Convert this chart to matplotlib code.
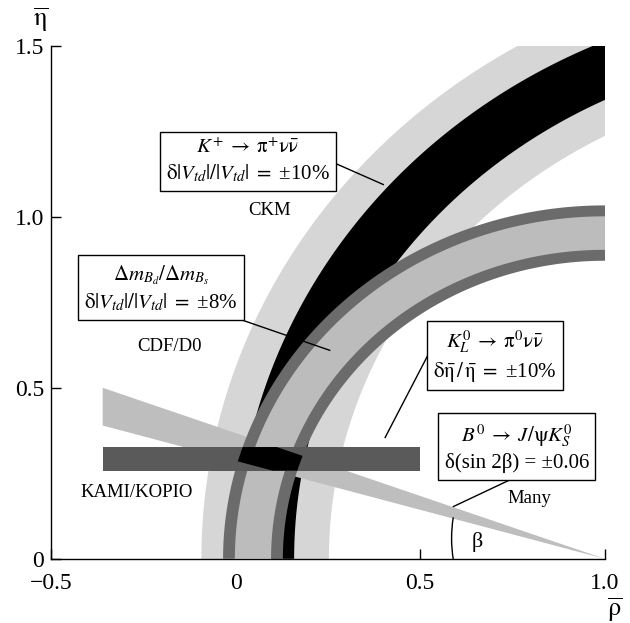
import matplotlib
matplotlib.use('Agg')
import matplotlib.pyplot as plt
import numpy as np
from matplotlib.patches import Polygon, Arc

plt.rcParams['font.family'] = ['Liberation Serif', 'DejaVu Serif']
plt.rcParams['mathtext.fontset'] = 'stix'

# K+ -> pi+ nu nubar ellipse (centred on the rho axis)
kp_center = 1.65
kp_radius = 1.57
kp_wide = 0.11      # outer light band, relative half-width
kp_narrow = 0.05    # inner black band

# Delta m_Bd / Delta m_Bs circle around (1, 0)
cdf_radius = 0.953
cdf_half = 0.081
cdf_edge = 0.032

# KAMI/KOPIO eta-bar band
kami_eta = (0.258, 0.327)
kami_rho = (-0.36, 0.50)

# sin 2beta wedge (degrees)
beta_deg = (16.0, 20.2)
wedge_rho_left = -0.36

LIGHT = '#d6d6d6'
MID = '#bcbcbc'
DARK = '#6b6b6b'
BAR = '#5a5a5a'
WEDGE = '#bebebe'


def ring(cx, r_in, r_out, t0, t1, n=400):
    t = np.linspace(t0, t1, n)
    outer = np.column_stack([cx + r_out * np.cos(t), r_out * np.sin(t)])
    inner = np.column_stack([cx + r_in * np.cos(t[::-1]), r_in * np.sin(t[::-1])])
    return np.vstack([outer, inner])


fig = plt.figure(figsize=(6.3, 6.23), dpi=100)
ax = fig.add_axes([0.081, 0.103, 0.879, 0.823])
ax.set_xlim(-0.5, 1.0)
ax.set_ylim(0, 1.5)

# K+ bands
ax.add_patch(Polygon(ring(kp_center, kp_radius * (1 - kp_wide), kp_radius * (1 + kp_wide),
                          np.pi / 2, np.pi), closed=True, fc=LIGHT, ec='none', zorder=1))
ax.add_patch(Polygon(ring(kp_center, kp_radius * (1 - kp_narrow), kp_radius * (1 + kp_narrow),
                          np.pi / 2, np.pi), closed=True, fc='black', ec='none', zorder=2))

# sin 2beta wedge from (1, 0)
tb = np.tan(np.radians(beta_deg))
span = 1 - wedge_rho_left
wedge = [(1, 0), (wedge_rho_left, span * tb[1]), (wedge_rho_left, span * tb[0])]
ax.add_patch(Polygon(wedge, closed=True, fc=WEDGE, ec='none', zorder=3))

# Delta m ratio band with darker edges
r_lo, r_hi = cdf_radius - cdf_half, cdf_radius + cdf_half
ax.add_patch(Polygon(ring(1.0, r_lo, r_hi, 0, np.pi), closed=True, fc=DARK, ec='none', zorder=4))
ax.add_patch(Polygon(ring(1.0, r_lo + cdf_edge, r_hi - cdf_edge, 0, np.pi), closed=True,
                     fc=MID, ec='none', zorder=5))

# KAMI/KOPIO band
ax.fill_between(kami_rho, kami_eta[0], kami_eta[1], fc=BAR, ec='none', zorder=6)

# region allowed by all constraints
ys = np.linspace(kami_eta[0], kami_eta[1], 200)
left = np.maximum.reduce([1 - ys / tb[0], 1 - np.sqrt(r_hi ** 2 - ys ** 2),
                          kp_center - np.sqrt((kp_radius * (1 + kp_wide)) ** 2 - ys ** 2)])
right = np.minimum.reduce([1 - ys / tb[1], 1 - np.sqrt(r_lo ** 2 - ys ** 2),
                           kp_center - np.sqrt((kp_radius * (1 - kp_wide)) ** 2 - ys ** 2)])
ok = left < right
poly = np.vstack([np.column_stack([left[ok], ys[ok]]),
                  np.column_stack([right[ok][::-1], ys[ok][::-1]])])
ax.add_patch(Polygon(poly, closed=True, fc='black', ec='none', zorder=7))

# beta arc
ax.add_patch(Arc((1.0, 0.06), 0.83, 0.83, theta1=171.5, theta2=188.5, color='black',
                 lw=1, zorder=8))
ax.text(0.655, 0.05, r'β', fontsize=16, ha='center', va='center', zorder=9)

# boxes and labels
box = dict(boxstyle='square,pad=0.3', fc='white', ec='black', lw=1)
tkw = dict(fontsize=15, ha='center', va='center', multialignment='center', zorder=10,
           linespacing=1.3)
lkw = dict(fontsize=13.5, ha='center', va='center', zorder=10)

ax.text(0.033, 1.162,
        '$K^{+}\\;\\rightarrow\\;\\mathrm{\\pi}^{+}\\mathrm{\\nu}\\bar{\\mathrm{\\nu}}$\n'
        '$\\mathrm{\\delta}|V_{td}|/|V_{td}|\\;=$ ±10%', bbox=box, **tkw)
ax.plot([0.274, 0.40], [1.155, 1.095], color='black', lw=1, zorder=9)
ax.text(0.093, 1.02, 'CKM', **lkw)

ax.text(-0.202, 0.792,
        '$\\Delta m_{B_d}/\\Delta m_{B_s}$\n'
        '$\\mathrm{\\delta}|V_{td}|/|V_{td}|\\;=$ ±8%', bbox=box, **tkw)
ax.plot([0.016, 0.255], [0.699, 0.61], color='black', lw=1, zorder=9)
ax.text(-0.178, 0.62, 'CDF/D0', **lkw)

ax.text(0.703, 0.593,
        '$K_L^0\\;\\rightarrow\\;\\mathrm{\\pi}^0\\mathrm{\\nu}\\bar{\\mathrm{\\nu}}$\n'
        '$\\mathrm{\\delta}\\bar{\\mathrm{\\eta}}\\,/\\,\\bar{\\mathrm{\\eta}}\\;=$ ±10%',
        bbox=box, **tkw)
ax.plot([0.519, 0.405], [0.592, 0.355], color='black', lw=1, zorder=9)
ax.text(-0.268, 0.194, 'KAMI/KOPIO', **lkw)

ax.text(0.762, 0.325,
        '$B^0\\;\\rightarrow\\;J/\\mathrm{\\psi}K_S^0$\n'
        'δ(sin 2β) = ±0.06', bbox=box, **tkw)
ax.plot([0.745, 0.59], [0.232, 0.153], color='black', lw=1, zorder=9)
ax.text(0.797, 0.177, 'Many', **lkw)

# axes
for s in ('top', 'right'):
    ax.spines[s].set_visible(False)
for s in ('left', 'bottom'):
    ax.spines[s].set_linewidth(1)
ax.set_xticks([-0.5, 0, 0.5, 1.0])
ax.set_xticklabels(['−0.5', '0', '0.5', '1.0'])
ax.set_yticks([0, 0.5, 1.0, 1.5])
ax.set_yticklabels(['0', '0.5', '1.0', '1.5'])
ax.tick_params(direction='in', length=7, width=1, labelsize=17)
ax.tick_params(axis='x', pad=10)
ax.tick_params(axis='y', pad=5)

fig.text(0.976, 0.022, r'$\overline{\mathrm{\rho}}$', fontsize=19, ha='center', va='center')
fig.text(0.065, 0.968, r'$\overline{\mathrm{\eta}}$', fontsize=19, ha='center', va='center')

fig.savefig('out.png', dpi=100)
